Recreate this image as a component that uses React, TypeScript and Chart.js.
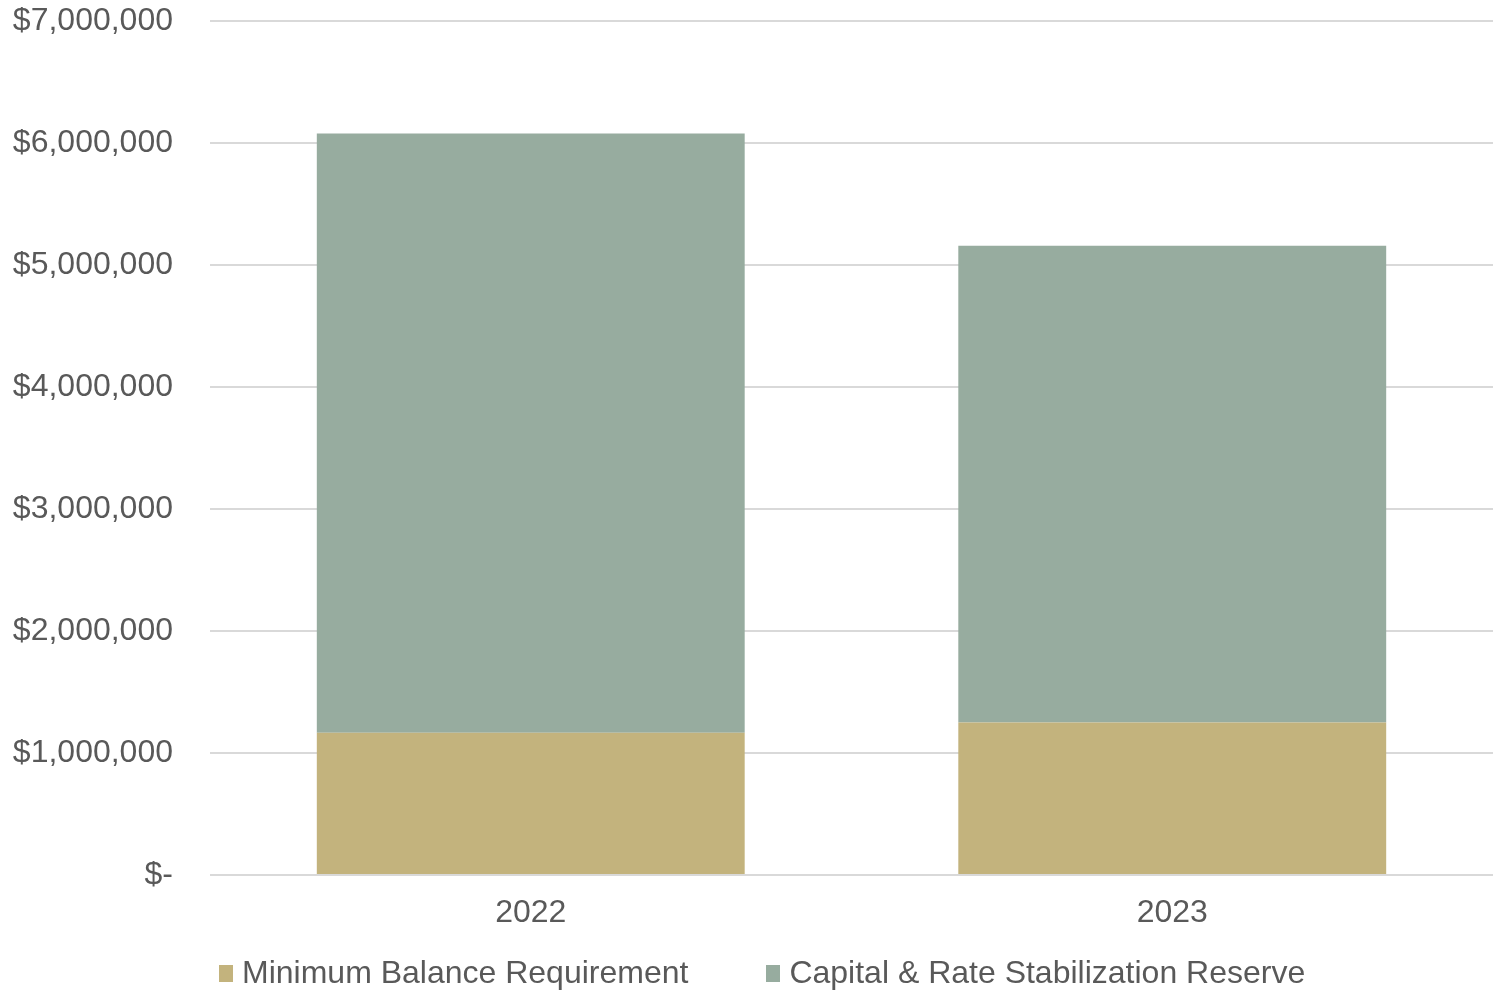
import React, { useEffect, useRef } from "react";
import { Chart, registerables } from "chart.js";

Chart.register(...registerables);

const categories = ["2022", "2023"];
const minimumBalance = [1166000, 1250000];
const capitalReserve = [4912000, 3907000];
const seriesNames = ["Minimum Balance Requirement", "Capital & Rate Stabilization Reserve"];
const seriesColors = ["#C3B37D", "#97AC9F"];

const FONT = "'Liberation Sans', Arial, sans-serif";
const TEXT = "#595959";

export default function App() {
  const ref = useRef<HTMLCanvasElement | null>(null);
  const legendRef = useRef<HTMLDivElement | null>(null);

  useEffect(() => {
    document.body.style.margin = "0";
    const canvas = ref.current;
    if (!canvas) return;

    const htmlLegend = {
      id: "htmlLegend",
      afterUpdate(chart: any) {
        const host = legendRef.current;
        if (!host) return;
        while (host.firstChild) host.removeChild(host.firstChild);
        const items = chart.options.plugins.legend.labels.generateLabels(chart);
        items.forEach((item: any, i: number) => {
          const row = document.createElement("div");
          row.style.display = "flex";
          row.style.alignItems = "flex-start";
          row.style.marginLeft = i === 0 ? "0px" : "78px";
          const box = document.createElement("span");
          box.style.display = "inline-block";
          box.style.width = "14px";
          box.style.height = "17px";
          box.style.marginTop = "9px";
          box.style.marginRight = "9px";
          box.style.background = item.fillStyle;
          const txt = document.createElement("span");
          txt.textContent = item.text;
          txt.style.whiteSpace = "nowrap";
          row.appendChild(box);
          row.appendChild(txt);
          host.appendChild(row);
        });
      },
    };

    const chart = new Chart(canvas, {
      type: "bar",
      data: {
        labels: categories,
        datasets: [
          {
            label: seriesNames[0],
            data: minimumBalance,
            backgroundColor: seriesColors[0],
            borderWidth: 0,
          },
          {
            label: seriesNames[1],
            data: capitalReserve,
            backgroundColor: seriesColors[1],
            borderWidth: 0,
          },
        ],
      },
      options: {
        animation: false,
        responsive: false,
        devicePixelRatio: 1,
        layout: { padding: { top: 21, right: 0, bottom: 57, left: 0 } },
        datasets: {
          bar: { barPercentage: 0.667, categoryPercentage: 1 },
        },
        plugins: {
          tooltip: { enabled: false },
          legend: { display: false },
        },
        scales: {
          x: {
            stacked: true,
            grid: { display: false, drawTicks: false },
            border: { display: false },
            ticks: {
              font: { family: FONT, size: 32 },
              color: TEXT,
              padding: 19,
            },
            afterFit: (axis: any) => {
              axis.height = 58;
            },
          },
          y: {
            stacked: true,
            min: 0,
            max: 7000000,
            grid: { color: "#D9D9D9", lineWidth: 2, drawTicks: false },
            border: { display: false },
            ticks: {
              stepSize: 1000000,
              font: { family: FONT, size: 32 },
              color: TEXT,
              padding: 37,
              callback: (v: any) => (Number(v) === 0 ? "$-" : "$" + Number(v).toLocaleString("en-US")),
            },
            afterFit: (axis: any) => {
              axis.width = 210;
              axis.paddingTop = 0;
              axis.paddingBottom = 0;
            },
          },
        },
      },
      plugins: [htmlLegend],
    });
    return () => chart.destroy();
  }, []);

  return (
    <div style={{ position: "absolute", left: 0, top: 0, width: 1493, height: 990, background: "#fff", overflow: "hidden" }}>
      <canvas ref={ref} width={1493} height={990} style={{ width: 1493, height: 990, display: "block" }} />
      <div
        ref={legendRef}
        style={{
          position: "absolute",
          left: 219,
          top: 956,
          height: 32,
          display: "flex",
          flexDirection: "row",
          fontFamily: FONT,
          fontSize: 32,
          lineHeight: "32px",
          color: TEXT,
        }}
      />
    </div>
  );
}
